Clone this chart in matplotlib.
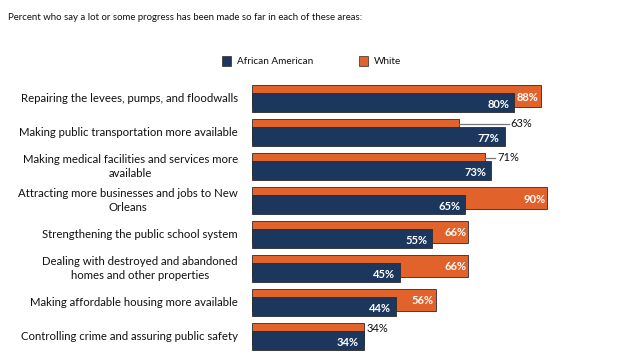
import matplotlib
matplotlib.use("Agg")
import matplotlib.pyplot as plt
from matplotlib.patches import Rectangle

plt.rcParams['font.family'] = ['Lato', 'DejaVu Sans']

categories = [
    "Repairing the levees, pumps, and floodwalls",
    "Making public transportation more available",
    "Making medical facilities and services more\navailable",
    "Attracting more businesses and jobs to New\nOrleans",
    "Strengthening the public school system",
    "Dealing with destroyed and abandoned\nhomes and other properties",
    "Making affordable housing more available",
    "Controlling crime and assuring public safety",
]
african_american = [80, 77, 73, 65, 55, 45, 44, 34]
white = [88, 63, 71, 90, 66, 66, 56, 34]

navy = '#1c375e'
orange = '#e2622b'
edge = '#2b2b2b'

W, H = 620, 356
fig = plt.figure(figsize=(W / 100, H / 100), dpi=100)

# pixel geometry: bars start at x=252px, 1% = 3.28px, groups 34px apart from y=85px
px_per_pct = 3.28
group_px = 34
ax_left, ax_top = 252, 85
ylim_max = 7.85
ax_w = 360
ax = fig.add_axes([ax_left / W, 1 - (ax_top + ylim_max * group_px) / H,
                   ax_w / W, ylim_max * group_px / H])
ax.set_xlim(0, ax_w / px_per_pct)
ax.set_ylim(ylim_max, 0)
ax.axis('off')

def px(n):
    return n / px_per_pct

def py(n):
    return n / group_px

for i, (label, aa, wh) in enumerate(zip(categories, african_american, white)):
    ax.barh(i + py(11), wh, height=py(22), color=orange, edgecolor=edge, linewidth=0.6)
    ax.barh(i + py(17.5), aa, height=py(19), color=navy, edgecolor=edge, linewidth=0.6)

    ax.text(aa - px(5), i + py(19), f"{aa}%", color='white', fontsize=8,
            fontweight='bold', ha='right', va='center')
    if wh > aa:
        ax.text(wh - px(2), i + py(12), f"{wh}%", color='white', fontsize=8,
                fontweight='bold', ha='right', va='center')
    elif wh < aa:
        tx = aa + px(5.5)
        ax.plot([wh + px(0.5), tx - px(1.5)], [i + py(4.5)] * 2, color='#777777', lw=0.9)
        ax.text(tx, i + py(4.5), f"{wh}%", color='#111111', fontsize=8,
                ha='left', va='center')
    else:
        ax.text(wh + px(3), i + py(5.5), f"{wh}%", color='#111111', fontsize=8,
                ha='left', va='center')

    ax.text(px(-14), i + py(13.5), label, ha='right', va='center',
            multialignment='center', fontsize=8.2, linespacing=1.3, color='#111111')

fig.text(8 / W, 1 - 18 / H, "Percent who say a lot or some progress has been made so far in each of these areas:",
         fontsize=6.9, va='center', ha='left', color='#111111')

# legend
for sx, name, col in [(222, "African American", navy), (359, "White", orange)]:
    fig.patches.append(Rectangle((sx / W, 1 - 66 / H), 9 / W, 10 / H, transform=fig.transFigure,
                                 facecolor=col, edgecolor=edge, linewidth=0.5))
    fig.text((sx + 15) / W, 1 - 61.5 / H, name, fontsize=7.2, va='center', ha='left', color='#111111')

fig.savefig('out.png', dpi=100, facecolor='white')
